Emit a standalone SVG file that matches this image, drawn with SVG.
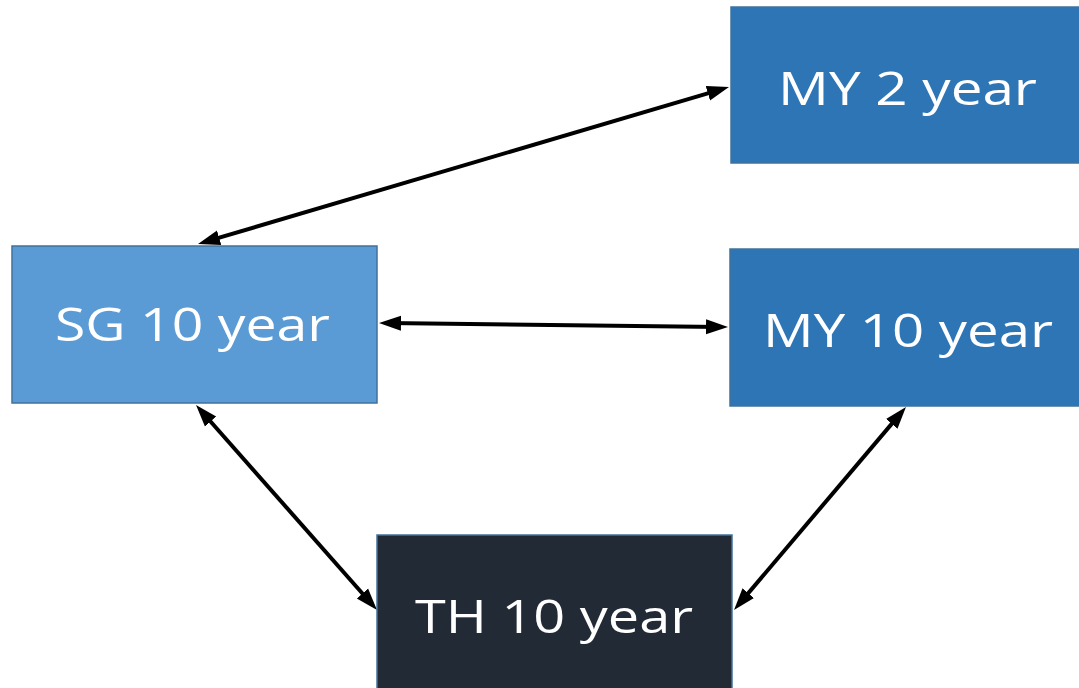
<svg xmlns="http://www.w3.org/2000/svg" width="1079" height="688" viewBox="0 0 1079 688">
<defs>
<style>
.box{stroke:#41719C;stroke-width:1.5}
.lbl{font-family:"Open Sans","Noto Sans",sans-serif;font-size:46px;fill:#ffffff}
.conn{stroke:#000;stroke-width:4;fill:none;marker-start:url(#ah);marker-end:url(#ah)}
</style>
<marker id="ah" markerUnits="userSpaceOnUse" markerWidth="24" markerHeight="18" refX="14" refY="9" orient="auto-start-reverse" viewBox="0 0 24 18">
<path d="M0,1.5 L22,9 L0,16.5 Z" fill="#000"/>
</marker>
</defs>
<rect width="1079" height="688" fill="#ffffff"/>
<g id="connectors">
<line class="conn" x1="205.7" y1="241.7" x2="721.3" y2="89.3"/>
<line class="conn" x1="387" y1="323.1" x2="720" y2="326.9"/>
<line class="conn" x1="201.3" y1="411" x2="371.7" y2="604"/>
<line class="conn" x1="900.8" y1="413.1" x2="739.2" y2="603.9"/>
</g>
<g id="node-my2">
<rect class="box" x="731" y="7" width="352" height="156" fill="#2E75B6"/>
<text class="lbl" x="778" y="105" textLength="259" lengthAdjust="spacingAndGlyphs">MY 2 year</text>
</g>
<g id="node-sg10">
<rect class="box" x="12" y="246" width="365" height="157" fill="#5B9BD5"/>
<text class="lbl" x="55" y="341" textLength="275" lengthAdjust="spacingAndGlyphs">SG 10 year</text>
</g>
<g id="node-my10">
<rect class="box" x="730" y="249" width="353" height="157" fill="#2E75B6"/>
<text class="lbl" x="763" y="347" textLength="290" lengthAdjust="spacingAndGlyphs">MY 10 year</text>
</g>
<g id="node-th10">
<rect class="box" x="377" y="535" width="355" height="160" fill="#222A35"/>
<text class="lbl" x="415" y="633" textLength="278" lengthAdjust="spacingAndGlyphs">TH 10 year</text>
</g>
</svg>
